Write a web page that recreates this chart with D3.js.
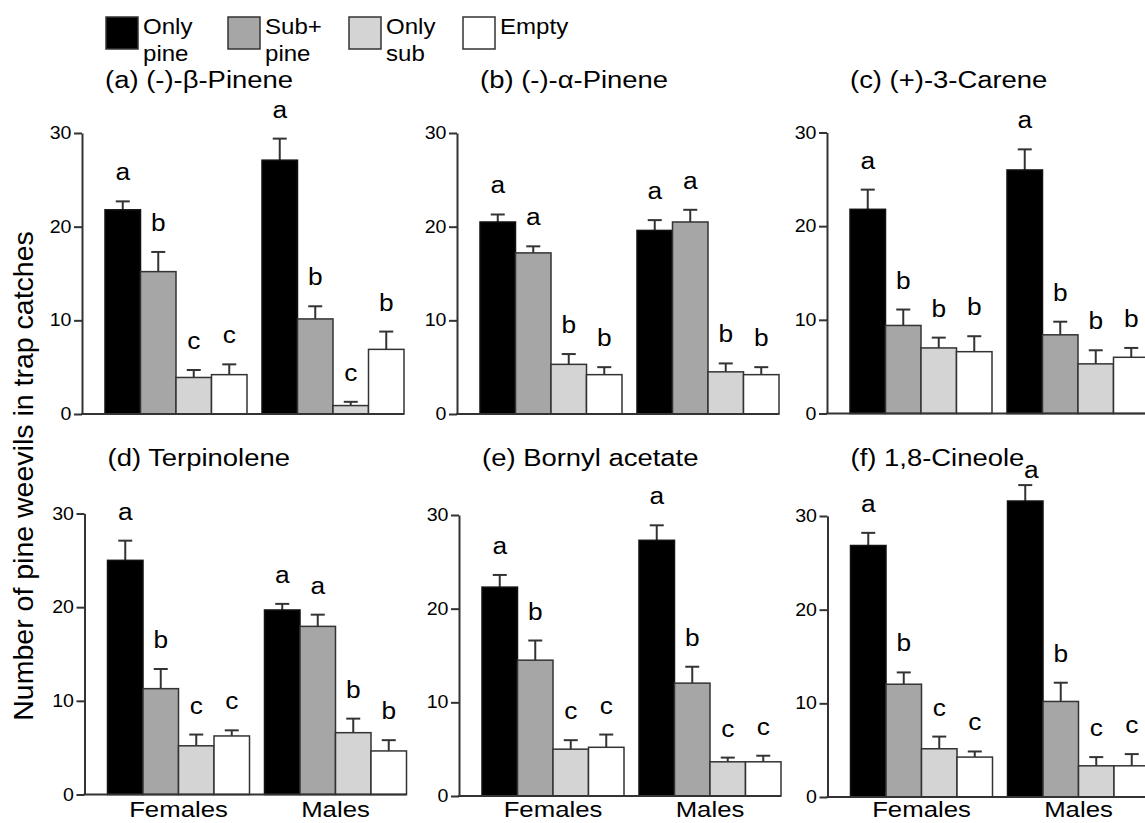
<!DOCTYPE html>
<html><head><meta charset="utf-8">
<script src="https://cdn.jsdelivr.net/npm/d3@7"></script>
<style>
body{margin:0;background:#fff}
svg{display:block}
text{font-family:"Liberation Sans",Arial,Helvetica,sans-serif;fill:#000}
</style>
</head><body>
<svg id="chart" width="1145" height="823"></svg>
<script>
// ---------- DATA ----------
const sexes = ["Females", "Males"];
const treatments = ["Only pine", "Sub+pine", "Only sub", "Empty"];
const legendLines = [["Only", "pine"], ["Sub+", "pine"], ["Only", "sub"], ["Empty"]];
const yTicks = [0, 10, 20, 30];
const panelTitles = ["(a) (-)-β-Pinene", "(b) (-)-α-Pinene", "(c) (+)-3-Carene",
                     "(d) Terpinolene", "(e) Bornyl acetate", "(f) 1,8-Cineole"];
const yLabel = "Number of pine weevils in trap catches";

// means [Females, Males] x treatments
const meansA = [[21.8, 15.2, 3.9, 4.2], [27.1, 10.15, 0.9, 6.9]];
const errA   = [[0.9, 2.1, 0.8, 1.1], [2.3, 1.35, 0.4, 1.9]];
const lettersA = [["a", "b", "c", "c"], ["a", "b", "c", "b"]];

const meansB = [[20.5, 17.2, 5.3, 4.2], [19.6, 20.5, 4.5, 4.2]];
const errB   = [[0.8, 0.7, 1.1, 0.8], [1.1, 1.3, 0.9, 0.8]];
const lettersB = [["a", "a", "b", "b"], ["a", "a", "b", "b"]];

const meansC = [[21.8, 9.4, 7.0, 6.6], [26.0, 8.4, 5.3, 6.0]];
const errC   = [[2.1, 1.7, 1.1, 1.65], [2.2, 1.4, 1.45, 1.0]];
const lettersC = [["a", "b", "b", "b"], ["a", "b", "b", "b"]];

const meansD = [[25.0, 11.3, 5.2, 6.25], [19.7, 17.95, 6.6, 4.65]];
const errD   = [[2.1, 2.1, 1.2, 0.6], [0.65, 1.25, 1.5, 1.15]];
const lettersD = [["a", "b", "c", "c"], ["a", "a", "b", "b"]];

const meansE = [[22.3, 14.5, 5.0, 5.2], [27.3, 12.05, 3.65, 3.65]];
const errE   = [[1.3, 2.1, 0.96, 1.36], [1.6, 1.75, 0.45, 0.65]];
const lettersE = [["a", "b", "c", "c"], ["a", "b", "c", "c"]];

const meansF = [[26.85, 12.04, 5.15, 4.26], [31.6, 10.2, 3.33, 3.33]];
const errF   = [[1.35, 1.26, 1.3, 0.6], [1.7, 2.0, 0.93, 1.25]];
const lettersF = [["a", "b", "c", "c"], ["a", "b", "c", "c"]];

const panelMeans = [meansA, meansB, meansC, meansD, meansE, meansF];
const panelErr = [errA, errB, errC, errD, errE, errF];
const panelLetters = [lettersA, lettersB, lettersC, lettersD, lettersE, lettersF];

// ---------- LAYOUT / STYLE ----------
const fills = ["#000000", "#a6a6a6", "#d4d4d4", "#ffffff"];
const layout = [
  {axisX: 82,   zeroY: 414,   titleY: 88,  cats: false},
  {axisX: 457,  zeroY: 414,   titleY: 88,  cats: false},
  {axisX: 827,  zeroY: 413.5, titleY: 88,  cats: false},
  {axisX: 84.5, zeroY: 794.5, titleY: 466, cats: true},
  {axisX: 459,  zeroY: 796,   titleY: 466, cats: true},
  {axisX: 827.5,zeroY: 797,   titleY: 466, cats: true}
];
const plotH = 281, barOffset = 23, groupSpan = 299;
const SX = 1.12; // horizontal text stretch
const ink = "#333";

const svg = d3.select("#chart");

function stext(g, x, y, str, size, anchor) {
  return g.append("text")
    .attr("transform", `translate(${x},${y}) scale(${SX},1)`)
    .attr("text-anchor", anchor || "start")
    .style("font-size", size + "px")
    .text(str);
}

// legend
const legendX = [106, 228, 349, 463];
const legend = svg.append("g");
treatments.forEach((t, i) => {
  legend.append("rect")
    .attr("x", legendX[i]).attr("y", 17).attr("width", 32).attr("height", 32)
    .attr("fill", fills[i]).attr("stroke", ink).attr("stroke-width", 1.5);
  legendLines[i].forEach((ln, j) => {
    stext(legend, legendX[i] + 37, 34 + j * 27, ln, 21.5, "start");
  });
});

// y label
svg.append("text")
  .attr("transform", "translate(33,476) rotate(-90)")
  .attr("text-anchor", "middle")
  .style("font-size", "28.5px")
  .text(yLabel);

// panels
layout.forEach((L, p) => {
  const g = svg.append("g");
  const y = d3.scaleLinear().domain([0, 30]).range([L.zeroY, L.zeroY - plotH]);
  const x0 = d3.scaleBand().domain(sexes)
    .range([L.axisX + barOffset, L.axisX + barOffset + groupSpan])
    .paddingInner(0.0955).paddingOuter(0);
  const x1 = d3.scaleBand().domain(treatments).range([0, x0.bandwidth()]).padding(0);

  // title
  stext(g, L.axisX + barOffset, L.titleY, panelTitles[p], 24.5, "start");

  // bars
  sexes.forEach((s, si) => {
    treatments.forEach((t, ti) => {
      const m = panelMeans[p][si][ti];
      const e = panelErr[p][si][ti];
      const bx = x0(s) + x1(t);
      const cx = bx + x1.bandwidth() / 2;
      g.append("line")
        .attr("x1", cx).attr("x2", cx).attr("y1", y(m)).attr("y2", y(m + e))
        .attr("stroke", ink).attr("stroke-width", 2);
      g.append("line")
        .attr("x1", cx - 7).attr("x2", cx + 7).attr("y1", y(m + e)).attr("y2", y(m + e))
        .attr("stroke", ink).attr("stroke-width", 2);
      g.append("rect")
        .attr("x", bx).attr("y", y(m))
        .attr("width", x1.bandwidth()).attr("height", y(0) - y(m))
        .attr("fill", fills[ti]).attr("stroke", ti === 0 ? "#111" : ink).attr("stroke-width", 1.5);
      // letter above the error bar, kept below the panel title line
      const ly = Math.max(y(m + e) - 21, L.titleY + 12);
      const lx = ly > y(m + e) - 21 ? cx + 6 : cx;
      stext(g, lx, ly, panelLetters[p][si][ti], 23.5, "middle");
    });
  });

  // y axis
  const ax = g.append("g").attr("transform", `translate(${L.axisX},0)`)
    .call(d3.axisLeft(y).tickValues(yTicks).tickSize(8).tickSizeOuter(0).tickPadding(2));
  ax.select(".domain").attr("stroke", ink).attr("stroke-width", 2);
  ax.selectAll(".tick line").attr("stroke", ink).attr("stroke-width", 2);
  ax.selectAll(".tick text")
    .style("font-size", "17.5px").style("font-family", '"Liberation Sans",Arial,sans-serif')
    .attr("fill", "#000")
    .attr("transform", `scale(${SX},1)`)
    .attr("x", -10.5 / SX);

  // x axis baseline
  g.append("line")
    .attr("x1", L.axisX - 1).attr("x2", x0.range()[1])
    .attr("y1", y(0)).attr("y2", y(0))
    .attr("stroke", ink).attr("stroke-width", 2);

  if (L.cats) {
    sexes.forEach(s => {
      stext(g, x0(s) + x0.bandwidth() / 2, 817, s, 23, "middle");
    });
  }
});
</script>
</body></html>
